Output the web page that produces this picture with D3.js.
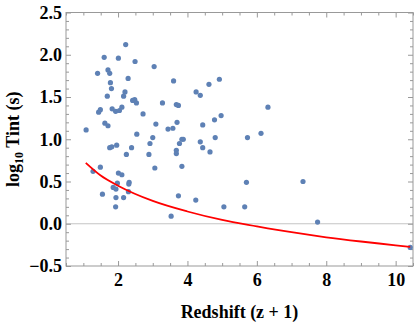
<!DOCTYPE html>
<html>
<head>
<meta charset="utf-8">
<script src="https://cdn.jsdelivr.net/npm/d3@7"></script>
<style>
  body { margin: 0; background: #fff; }
  svg { display: block; }
  .tick text { font-family: "Liberation Serif", "DejaVu Serif", serif; font-weight: bold; font-size: 18px; fill: #000; }
  .axis path { display: none; }
  .axis line { stroke: #999; }
  .title { font-family: "Liberation Serif", "DejaVu Serif", serif; font-weight: bold; font-size: 18px; fill: #000; }
</style>
</head>
<body>
<svg></svg>
<script>
(function () {
  var width = 415, height = 327;
  var margin = {top: 12.5, right: 2, bottom: 61, left: 66};
  var plot_width = width - margin.left - margin.right;
  var plot_height = height - margin.top - margin.bottom;

  // redshift (z + 1) of each burst
  var redshift = [2.22, 1.60, 2.01, 2.49, 3.04, 1.41, 1.71, 1.76, 2.29, 1.78,
                  1.81, 2.20, 2.16, 1.69, 2.48, 2.42, 2.53, 1.49, 1.44, 1.83,
                  1.93, 2.04, 2.11, 2.72, 1.62, 3.60, 4.92, 4.62, 4.25, 4.37,
                  3.28, 3.68, 3.74, 3.09, 3.70, 4.44, 4.78, 4.97, 1.71, 1.08,
                  2.54, 3.00, 2.92, 1.76, 1.82, 1.96, 2.39, 2.24, 2.89, 3.06,
                  1.49, 1.28, 2.01, 2.11, 2.32, 2.31, 1.98, 1.86, 1.94, 2.30,
                  1.55, 1.94, 2.16, 1.93, 3.44, 3.58, 3.84, 3.88, 3.77, 4.37,
                  4.44, 4.80, 3.68, 3.68, 4.65, 3.84, 3.74, 4.24, 5.05, 3.53,
                  6.32, 6.12, 5.73, 5.70, 7.33, 5.65, 7.75, 10.42];
  // log10 of Tint in seconds
  var logTint = [2.12, 1.97, 1.96, 1.92, 1.86, 1.78, 1.82, 1.78, 1.72, 1.67,
                 1.60, 1.56, 1.51, 1.51, 1.47, 1.46, 1.43, 1.35, 1.32, 1.36,
                 1.33, 1.34, 1.38, 1.30, 1.19, 1.69, 1.71, 1.65, 1.56, 1.52,
                 1.43, 1.41, 1.40, 1.18, 1.20, 1.17, 1.23, 1.28, 1.16, 1.11,
                 1.06, 1.02, 0.95, 0.90, 0.91, 0.93, 0.90, 0.82, 0.82, 0.66,
                 0.67, 0.62, 0.60, 0.58, 0.49, 0.47, 0.48, 0.43, 0.41, 0.38,
                 0.35, 0.31, 0.31, 0.20, 1.12, 1.13, 1.00, 1.00, 0.95, 0.97,
                 0.90, 1.02, 0.87, 0.83, 0.85, 0.68, 0.33, 0.28, 0.20, 0.09,
                 1.38, 1.07, 1.02, 0.49, 0.50, 0.20, 0.02, -0.28];

  // red model curve
  var curveX = [1.07, 1.5, 2, 3, 4, 5, 6, 7, 8, 9, 10, 10.42];
  var curveY = [0.72, 0.57, 0.45, 0.27, 0.145, 0.045, -0.03, -0.10, -0.16, -0.21, -0.255, -0.275];

  var xTicks = [2, 4, 6, 8, 10];
  var yTicks = [-0.5, 0.0, 0.5, 1.0, 1.5, 2.0, 2.5];

  var svg = d3.select('svg').attr('width', width).attr('height', height);
  var g = svg.append('g').attr('transform', 'translate(' + margin.left + ',' + margin.top + ')');

  var x = d3.scaleLinear().domain([0.5, 10.5]).range([0, plot_width]);
  var y = d3.scaleLinear().domain([-0.5, 2.5]).range([plot_height, 0]);

  var xMinor = d3.range(0.5, 10.51, 0.5).filter(function (v) { return xTicks.indexOf(v) < 0; });
  var yMinor = d3.range(-0.5, 2.501, 0.1).map(function (v) { return +v.toFixed(1); })
        .filter(function (v) { return yTicks.indexOf(v) < 0; });

  // zero line
  g.append('line')
    .attr('x1', 0).attr('x2', plot_width)
    .attr('y1', y(0)).attr('y2', y(0))
    .attr('stroke', '#c4c4c4').attr('stroke-width', 1);

  // frame ticks, pointing inwards on all four sides
  function side(axis, values, size, format, padding, transform) {
    axis.tickValues(values).tickSizeInner(-size).tickSizeOuter(0)
      .tickPadding(padding || 4).tickFormat(format || '');
    var s = g.append('g').attr('class', 'axis');
    if (transform) s.attr('transform', transform);
    s.call(axis);
    return s;
  }
  var bottom = 'translate(0,' + plot_height + ')';
  var right = 'translate(' + plot_width + ',0)';
  var fmtY = function (d) { return d < 0 ? '\u2212' + d3.format('.1f')(-d) : d3.format('.1f')(d); };

  side(d3.axisBottom(x), xMinor, 3, null, 0, bottom);
  side(d3.axisBottom(x), xTicks, 5, d3.format('d'), 7, bottom);
  side(d3.axisTop(x), xMinor, 3);
  side(d3.axisTop(x), xTicks, 5);
  side(d3.axisLeft(y), yMinor, 3);
  side(d3.axisLeft(y), yTicks, 5, fmtY, 4);
  side(d3.axisRight(y), yMinor, 3, null, 0, right);
  side(d3.axisRight(y), yTicks, 5, null, 0, right);

  g.append('rect')
    .attr('width', plot_width).attr('height', plot_height)
    .attr('fill', 'none').attr('stroke', '#999').attr('stroke-width', 1);

  // points
  g.selectAll('circle.pt')
    .data(redshift)
    .enter().append('circle')
    .attr('class', 'pt')
    .attr('cx', function (d) { return x(d); })
    .attr('cy', function (d, i) { return y(logTint[i]); })
    .attr('r', 2.6)
    .attr('fill', '#5E81B5');

  // model curve
  var line = d3.line()
        .x(function (d) { return x(d); })
        .y(function (d, i) { return y(curveY[i]); })
        .curve(d3.curveMonotoneX);
  g.append('path')
    .attr('d', line(curveX))
    .attr('fill', 'none')
    .attr('stroke', '#ff0000')
    .attr('stroke-width', 1.8);

  // axis titles
  svg.append('text')
    .attr('class', 'title')
    .attr('x', margin.left + plot_width / 2)
    .attr('y', 318)
    .attr('text-anchor', 'middle')
    .text('Redshift (z + 1)');

  var yt = svg.append('text')
    .attr('class', 'title')
    .attr('transform', 'translate(19,' + (margin.top + plot_height / 2) + ') rotate(-90)')
    .attr('text-anchor', 'middle');
  yt.append('tspan').text('log');
  yt.append('tspan').attr('font-size', '12px').attr('dy', 4).text('10');
  yt.append('tspan').attr('dy', -4).text(' Tint (s)');
})();
</script>
</body>
</html>
